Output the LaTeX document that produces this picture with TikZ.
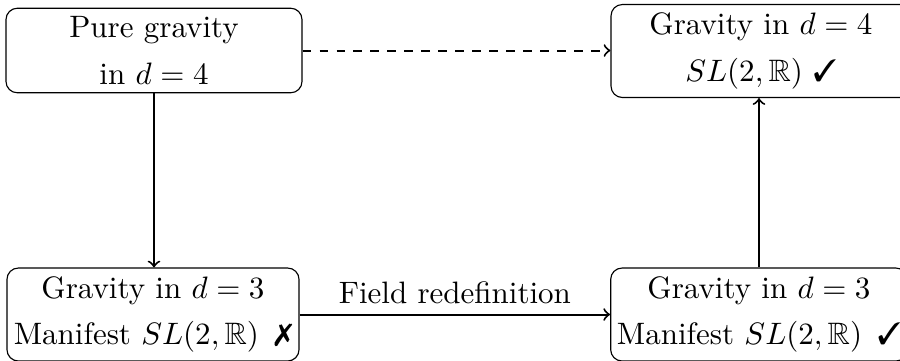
\documentclass[tikz,border=0pt]{standalone}
\usepackage{amssymb}
\usepackage{pifont}
\begin{document}
\begin{tikzpicture}[x=0.3534pt,y=-0.3534pt,
  box/.style={draw, rounded corners, align=center, minimum width=104.6pt,
    font=\fontsize{10.95}{13.6}\selectfont, inner ysep=3pt},
  lowbox/.style={box, minimum width=103.2pt, inner xsep=2.2pt},
  conn/.style={->, >=to, line width=0.7pt}]
\useasboundingbox (0,0) rectangle (900,360);
\node[box] (A) at (154,50.5) {Pure gravity\\[2.8pt] in $d=4$};
\node[box, minimum width=106pt] (B) at (761,51) {Gravity in $d=4$\\[2.8pt] $SL(2,\mathbb{R})$ \ding{51}};
\node[lowbox] (C) at (153,314.5) {Gravity in $d=3$\\[2.8pt] Manifest $SL(2,\mathbb{R})$\hspace{5.5pt}\ding{55}};
\node[lowbox] (D) at (759,314.5) {Gravity in $d=3$\\[2.8pt] Manifest $SL(2,\mathbb{R})$\hspace{5.5pt}\ding{51}};
\draw[conn, dashed] (A.east) -- (A.east -| B.west);
\draw[conn] (A.south) -- (A.south |- C.north);
\draw[conn] (D.north) -- (D.north |- B.south);
\draw[conn] (C.east) -- (C.east -| D.west) node[midway, above, font=\fontsize{10.95}{13.6}\selectfont] {Field redefinition};
\end{tikzpicture}
\end{document}
